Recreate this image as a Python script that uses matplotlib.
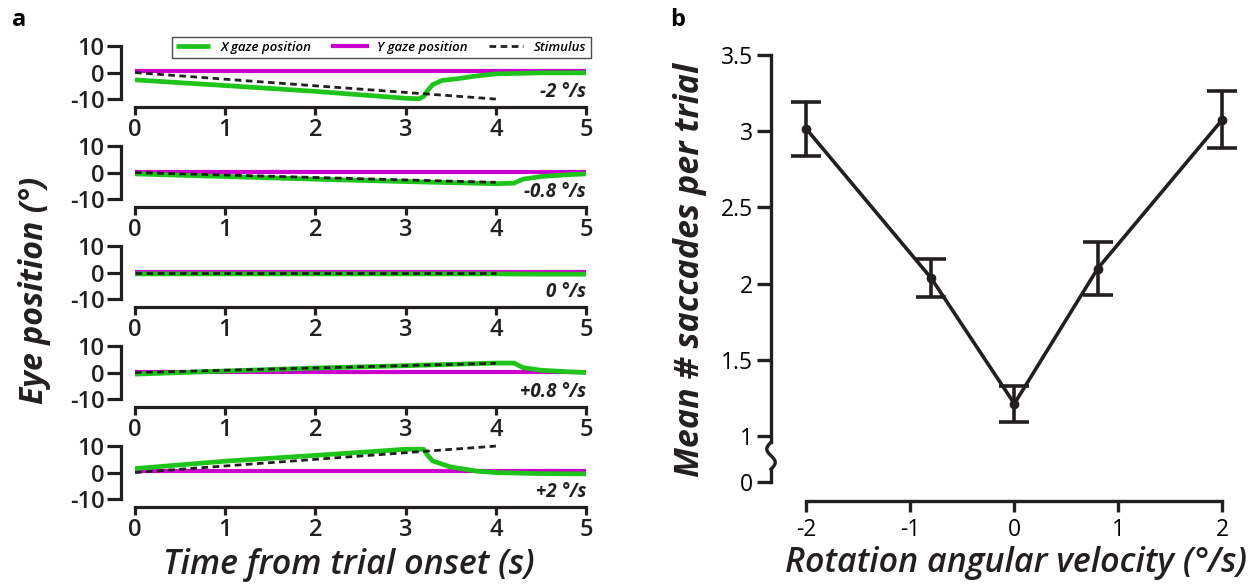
import numpy as np
import matplotlib
matplotlib.use("Agg")
import matplotlib.pyplot as plt
import matplotlib.transforms as mtransforms

plt.rcParams['font.family'] = ['Open Sans', 'DejaVu Sans']
plt.rcParams['axes.unicode_minus'] = False

# ---- panel a data ----
speed_labels = ["-2 °/s", "-0.8 °/s", "0 °/s", "+0.8 °/s", "+2 °/s"]
stim_t = [0, 4]
stim_end = [-10, -3.7, 0, 3.5, 10]

x_gaze_t = [
    [0, 1, 2, 2.5, 3, 3.15, 3.2, 3.25, 3.3, 3.4, 3.6, 3.8, 4, 4.5, 5],
    [0, 1, 2, 3, 4, 4.2, 4.3, 4.5, 4.8, 5],
    [0, 1, 2, 3, 4, 4.5, 5],
    [0, 1, 2, 3, 4, 4.2, 4.3, 4.5, 4.8, 5],
    [0, 1, 2, 3, 3.2, 3.25, 3.3, 3.5, 3.8, 4, 4.5, 5],
]
x_gaze_v = [
    [-2.75, -4.9, -7.1, -8.4, -9.7, -9.9, -9.0, -6.5, -4.6, -3.0, -2.2, -1.2, -0.5, -0.1, -0.1],
    [-0.5, -1.5, -2.5, -3.4, -4.2, -4.0, -2.5, -1.5, -0.8, -0.5],
    [-0.5, -0.5, -0.5, -0.5, -0.5, -0.6, -0.6],
    [-0.6, 0.6, 1.7, 2.6, 3.6, 3.6, 1.9, 0.9, 0.3, 0.0],
    [1.5, 4.3, 6.5, 8.8, 8.8, 6.3, 4.4, 2.1, 0.5, 0.0, -0.4, -0.5],
]
y_gaze_t = [0, 5]
y_gaze_v = [0.7, 0.3, 0.4, 0.3, 0.5]

# ---- panel b data ----
velocity = [-2, -0.8, 0, 0.8, 2]
mean_saccades = [3.015, 2.037, 1.213, 2.098, 3.076]
sem_saccades = [0.175, 0.125, 0.117, 0.175, 0.187]

GREEN = '#1fc41a'
MAGENTA = '#cc00cc'
INK = '#231f20'

W, H = 1256, 588
fig = plt.figure(figsize=(W / 100, H / 100), dpi=100)


def px_axes(left, top, right, bottom):
    return fig.add_axes([left / W, 1 - bottom / H, (right - left) / W, (bottom - top) / H])


# ---- panel a ----
for k in range(5):
    bottom = 107 + 100 * k
    ax = px_axes(135, bottom - 67, 586, bottom)
    ax.plot(x_gaze_t[k], x_gaze_v[k], color=GREEN, lw=3.4, label='X gaze position',
            solid_capstyle='butt', zorder=3)
    ax.plot(y_gaze_t, [y_gaze_v[k]] * 2, color=MAGENTA, lw=3.0, label='Y gaze position', zorder=2)
    ax.plot(stim_t, [0, stim_end[k]], color=INK, lw=2.0, ls=(0, (2.4, 1.6)), label='Stimulus', zorder=4)
    ax.set_xlim(0, 5)
    ax.set_ylim(-13, 12.3)
    ax.set_xticks(range(6))
    ax.set_yticks([-10, 0, 10])
    for s in ['top', 'right']:
        ax.spines[s].set_visible(False)
    ax.spines['left'].set_bounds(-10, 10)
    ax.spines['left'].set_position(('outward', 10))
    for s in ['left', 'bottom']:
        ax.spines[s].set_linewidth(2.3)
        ax.spines[s].set_color(INK)
    ax.tick_params(axis='y', length=10, width=2.3, color=INK, pad=2)
    ax.tick_params(axis='x', length=6, width=2.3, color=INK, pad=2)
    ax.tick_params(labelsize=17, labelcolor=INK)
    for lab in ax.get_xticklabels() + ax.get_yticklabels():
        lab.set_fontweight('semibold')
    ax.text(5, -7.4, speed_labels[k], ha='right', va='center', fontsize=13.5,
            fontweight='bold', fontstyle='italic', color=INK)
    if k == 0:
        leg = ax.legend(loc='upper right', bbox_to_anchor=(1.01, 1.05), ncol=3,
                        frameon=True, fancybox=False, borderaxespad=0,
                        prop={'size': 9.5, 'style': 'italic', 'weight': 'semibold'},
                        handlelength=2.6, columnspacing=1.6, borderpad=0.3,
                        handletextpad=0.8)
        leg.get_frame().set_edgecolor(INK)
        leg.get_frame().set_linewidth(1.0)

fig.text(12 / W, 1 - 20 / H, 'a', fontsize=17, fontweight='bold', va='center', ha='left')
fig.text(35 / W, 1 - 290 / H, 'Eye position (°)', rotation=90, fontsize=23,
         fontweight='bold', fontstyle='italic', ha='center', va='center', color=INK)
fig.text(349 / W, 1 - 565 / H, 'Time from trial onset (s)', fontsize=24.5,
         fontstyle='italic', fontweight='semibold', ha='center', va='center', color=INK)

# ---- panel b ----
zero_pos = 1 - 46 / 152.5  # where the "0" tick sits below the axis break
axb = px_axes(771, 55, 1240, 501)
axb.errorbar(velocity, mean_saccades, yerr=sem_saccades, fmt='-o', color=INK,
             lw=2.6, ms=6, capsize=11, capthick=2.6, elinewidth=2.6)
axb.set_xlim(-2.34, 2.17)
axb.set_ylim(0.575, 3.5)
axb.set_xticks([-2, -1, 0, 1, 2])
axb.set_yticks([zero_pos, 1, 1.5, 2, 2.5, 3, 3.5])
axb.set_yticklabels(['0', '1', '1.5', '2', '2.5', '3', '3.5'])
for s in ['top', 'right']:
    axb.spines[s].set_visible(False)
axb.spines['left'].set_bounds(0.96, 3.5)
axb.spines['bottom'].set_bounds(-2, 2)
for s in ['left', 'bottom']:
    axb.spines[s].set_linewidth(2.4)
    axb.spines[s].set_color(INK)
axb.tick_params(axis='y', length=10, width=2.4, color=INK, pad=3, labelsize=16.5)
axb.tick_params(axis='x', length=8, width=2.4, color=INK, pad=4, labelsize=16.5)

# axis break squiggle and short stub down to the zero tick
trans = mtransforms.blended_transform_factory(axb.transAxes, axb.transData)
yy = np.linspace(0.96, 0.784, 40)
xx = -0.009 * np.sin(2 * np.pi * (yy - 0.96) / (0.784 - 0.96))
axb.plot(xx, yy, color=INK, lw=2.4, transform=trans, clip_on=False)
axb.plot([0, 0], [0.784, zero_pos], color=INK, lw=2.4, transform=trans, clip_on=False,
         solid_capstyle='projecting')

fig.text(670 / W, 1 - 20 / H, 'b', fontsize=17, fontweight='bold', va='center', ha='left')
fig.text(690 / W, 1 - 270 / H, 'Mean # saccades per trial', rotation=90, fontsize=24.5,
         fontweight='bold', fontstyle='italic', ha='center', va='center', color=INK)
fig.text(1016 / W, 1 - 563 / H, 'Rotation angular velocity (°/s)', fontsize=24.5,
         fontstyle='italic', fontweight='semibold', ha='center', va='center', color=INK)

fig.savefig('out.png', dpi=100)
